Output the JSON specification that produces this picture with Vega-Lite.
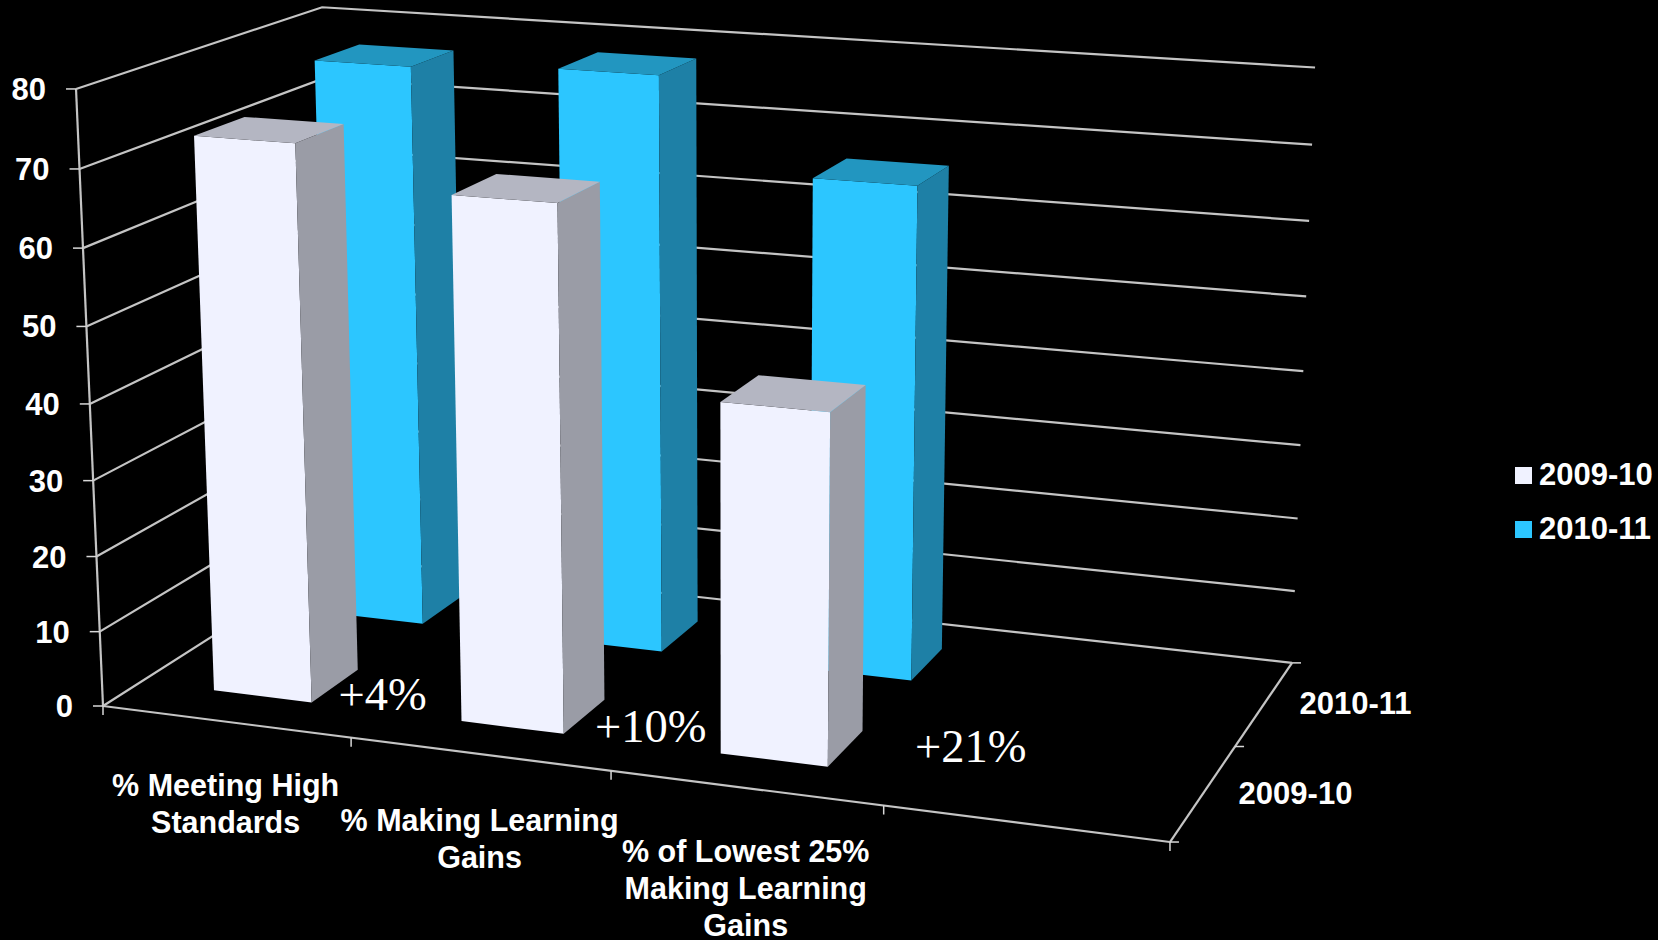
{
"$schema":"https://vega.github.io/schema/vega-lite/v6.json",
"width":1658,"height":940,"padding":0,"autosize":{"type":"none"},"background":"#000000",
"config":{"view":{"stroke":null}},
"datasets":{
"bars":[
{"category":"% Meeting High Standards","year":"2010-11","value":77},
{"category":"% Making Learning Gains","year":"2010-11","value":78},
{"category":"% of Lowest 25% Making Learning Gains","year":"2010-11","value":66},
{"category":"% Meeting High Standards","year":"2009-10","value":73},
{"category":"% Making Learning Gains","year":"2009-10","value":68},
{"category":"% of Lowest 25% Making Learning Gains","year":"2009-10","value":45}],
"levels":[{"level":0},{"level":10},{"level":20},{"level":30},{"level":40},{"level":50},{"level":60},{"level":70},{"level":80}],
"categories":[
{"i":0,"label":"% Meeting High\nStandards","change":"+4%"},
{"i":1,"label":"% Making Learning\nGains","change":"+10%"},
{"i":2,"label":"% of Lowest 25%\nMaking Learning\nGains","change":"+21%"}],
"categoryTicks":[{"k":0},{"k":1},{"k":2},{"k":3},{"k":4}],
"depthTicks":[{"k":0},{"k":1},{"k":2}],
"years":[{"year":"2009-10","j":0},{"year":"2010-11","j":1}],
"axisLines":[{"name":"value"},{"name":"category"},{"name":"depth"}]
},
"encoding":{
"x":{"field":"sx","type":"quantitative","scale":{"domain":[0,1658],"nice":false,"zero":false},"axis":null},
"y":{"field":"sy","type":"quantitative","scale":{"domain":[940,0],"nice":false,"zero":false},"axis":null}
},
"layer":[
{"data":{"name":"levels"},
"transform":[
{"calculate":"[{n:0,X:0,Y:0},{n:1,X:0,Y:1},{n:2,X:1,Y:1}]","as":"v"},
{"flatten":["v"]},
{"calculate":"datum.v.X","as":"X"},{"calculate":"datum.v.Y","as":"Y"},{"calculate":"datum.level/80","as":"Z"},{"calculate":"datum.v.n","as":"n"},
{"calculate":"1-0.091*datum.X+0.1289*datum.Y-0.04106*datum.Z","as":"w"},
{"calculate":"(103+960.5*datum.X+277.5*datum.Y-30.1*datum.Z)/datum.w","as":"sx"},
{"calculate":"(706+59.4*datum.X-77.4*datum.Y-620.7*datum.Z)/datum.w","as":"sy"}],
"mark":{"type":"line","stroke":"#c4c4c4","strokeWidth":2.2},
"encoding":{"detail":{"field":"level"},"order":{"field":"n"}}},
{"data":{"name":"axisLines"},
"transform":[
{"calculate":"datum.name==='value'?[{n:0,X:0,Y:0,Z:0},{n:1,X:0,Y:0,Z:1}]:datum.name==='category'?[{n:0,X:0,Y:0,Z:0},{n:1,X:1,Y:0,Z:0}]:[{n:0,X:1,Y:0,Z:0},{n:1,X:1,Y:1,Z:0}]","as":"v"},
{"flatten":["v"]},
{"calculate":"datum.v.X","as":"X"},{"calculate":"datum.v.Y","as":"Y"},{"calculate":"datum.v.Z","as":"Z"},{"calculate":"datum.v.n","as":"n"},
{"calculate":"1-0.091*datum.X+0.1289*datum.Y-0.04106*datum.Z","as":"w"},
{"calculate":"(103+960.5*datum.X+277.5*datum.Y-30.1*datum.Z)/datum.w","as":"sx"},
{"calculate":"(706+59.4*datum.X-77.4*datum.Y-620.7*datum.Z)/datum.w","as":"sy"}],
"mark":{"type":"line","stroke":"#c4c4c4","strokeWidth":2.2},
"encoding":{"detail":{"field":"name"},"order":{"field":"n"}}},
{"data":{"name":"levels"},
"transform":[
{"calculate":"datum.level/80","as":"Z"},
{"calculate":"1-0.04106*datum.Z","as":"w"},
{"calculate":"(103-30.1*datum.Z)/datum.w","as":"sx"},
{"calculate":"(706-620.7*datum.Z)/datum.w","as":"sy"},
{"calculate":"datum.sx-10","as":"sx2"}],
"mark":{"type":"rule","stroke":"#d8d8d8","strokeWidth":1.5},
"encoding":{"x2":{"field":"sx2"}}},
{"data":{"name":"categoryTicks"},
"transform":[
{"calculate":"datum.k/4","as":"X"},
{"calculate":"1-0.091*datum.X","as":"w"},
{"calculate":"(103+960.5*datum.X)/datum.w","as":"sx"},
{"calculate":"(706+59.4*datum.X)/datum.w","as":"sy"},
{"calculate":"datum.sy+9","as":"sy2"}],
"mark":{"type":"rule","stroke":"#d8d8d8","strokeWidth":1.5},
"encoding":{"y2":{"field":"sy2"}}},
{"data":{"name":"depthTicks"},
"transform":[
{"calculate":"datum.k/2","as":"Y"},
{"calculate":"1-0.091+0.1289*datum.Y","as":"w"},
{"calculate":"(103+960.5+277.5*datum.Y)/datum.w","as":"sx"},
{"calculate":"(706+59.4-77.4*datum.Y)/datum.w","as":"sy"},
{"calculate":"datum.sx+9","as":"sx2"}],
"mark":{"type":"rule","stroke":"#d8d8d8","strokeWidth":1.5},
"encoding":{"x2":{"field":"sx2"}}},
{"data":{"name":"bars"},
"transform":[
{"calculate":"indexof(['% Meeting High Standards','% Making Learning Gains','% of Lowest 25% Making Learning Gains'],datum.category)","as":"i"},
{"calculate":"datum.year==='2009-10'?0:1","as":"j"},
{"calculate":"(datum.i+0.3)/4","as":"a"},{"calculate":"(datum.i+0.7)/4","as":"b"},
{"calculate":"(datum.j+0.3)/2","as":"c"},{"calculate":"(datum.j+0.7)/2","as":"d"},
{"calculate":"datum.value/80","as":"h"},
{"calculate":"[{f:'front',n:0,X:datum.a,Y:datum.c,Z:0},{f:'front',n:1,X:datum.b,Y:datum.c,Z:0},{f:'front',n:2,X:datum.b,Y:datum.c,Z:datum.h},{f:'front',n:3,X:datum.a,Y:datum.c,Z:datum.h},{f:'side',n:4,X:datum.b,Y:datum.c,Z:0},{f:'side',n:5,X:datum.b,Y:datum.d,Z:0},{f:'side',n:6,X:datum.b,Y:datum.d,Z:datum.h},{f:'side',n:7,X:datum.b,Y:datum.c,Z:datum.h},{f:'top',n:8,X:datum.a,Y:datum.c,Z:datum.h},{f:'top',n:9,X:datum.b,Y:datum.c,Z:datum.h},{f:'top',n:10,X:datum.b,Y:datum.d,Z:datum.h},{f:'top',n:11,X:datum.a,Y:datum.d,Z:datum.h}]","as":"v"},
{"flatten":["v"]},
{"calculate":"datum.v.X","as":"X"},{"calculate":"datum.v.Y","as":"Y"},{"calculate":"datum.v.Z","as":"Z"},
{"calculate":"(1-datum.j)*100+datum.i*20+datum.v.n","as":"ord"},
{"calculate":"datum.category+datum.year+datum.v.f","as":"face"},
{"calculate":"datum.v.f==='front'?datum.year:datum.year+' '+datum.v.f","as":"shade"},
{"calculate":"1-0.091*datum.X+0.1289*datum.Y-0.04106*datum.Z","as":"w"},
{"calculate":"(103+960.5*datum.X+277.5*datum.Y-30.1*datum.Z)/datum.w","as":"sx"},
{"calculate":"(706+59.4*datum.X-77.4*datum.Y-620.7*datum.Z)/datum.w","as":"sy"}],
"mark":{"type":"line","strokeWidth":0},
"encoding":{
"detail":{"field":"face"},
"order":{"field":"ord"},
"fill":{"field":"shade","type":"nominal",
"scale":{"domain":["2009-10","2010-11","2009-10 side","2010-11 side","2009-10 top","2010-11 top"],"range":["#F0F2FF","#2CC6FF","#9A9CA6","#1E80A6","#B4B6C2","#2296C0"]},
"legend":{"title":null,"values":["2009-10","2010-11"],"orient":"none","legendX":1508,"legendY":460,"symbolType":"square","symbolSize":289,"symbolStrokeWidth":0,"symbolOpacity":1,"labelFont":"Liberation Sans","labelFontWeight":"bold","labelFontSize":31,"labelColor":"#ffffff","rowPadding":22,"labelOffset":0,"labelLimit":200}}}},
{"data":{"name":"levels"},
"transform":[
{"calculate":"datum.level/80","as":"Z"},
{"calculate":"1-0.04106*datum.Z","as":"w"},
{"calculate":"(103-30.1*datum.Z)/datum.w","as":"sx"},
{"calculate":"(706-620.7*datum.Z)/datum.w","as":"sy"}],
"mark":{"type":"text","align":"right","baseline":"middle","dx":-30,"dy":2,"font":"Liberation Sans","fontWeight":"bold","fontSize":31,"fill":"#ffffff"},
"encoding":{"text":{"field":"level","type":"quantitative"}}},
{"data":{"name":"categories"},
"transform":[
{"calculate":"(datum.i+0.5)/4","as":"X"},
{"calculate":"1-0.091*datum.X","as":"w"},
{"calculate":"(103+960.5*datum.X)/datum.w","as":"sx"},
{"calculate":"(706+59.4*datum.X)/datum.w+[0,3,0][datum.i]","as":"sy"}],
"mark":{"type":"text","align":"center","baseline":"top","dy":50,"lineBreak":"\n","lineHeight":37,"font":"Liberation Sans","fontWeight":"bold","fontSize":30.5,"fill":"#ffffff"},
"encoding":{"text":{"field":"label","type":"nominal"}}},
{"data":{"name":"years"},
"transform":[
{"calculate":"(datum.j+0.5)/2","as":"Y"},
{"calculate":"1-0.091+0.1289*datum.Y","as":"w"},
{"calculate":"(103+960.5+277.5*datum.Y)/datum.w","as":"sx"},
{"calculate":"(706+59.4-77.4*datum.Y)/datum.w","as":"sy"}],
"mark":{"type":"text","align":"left","baseline":"middle","dx":35,"dy":2,"font":"Liberation Sans","fontWeight":"bold","fontSize":31,"fill":"#ffffff"},
"encoding":{"text":{"field":"year","type":"nominal"}}},
{"data":{"name":"categories"},
"transform":[
{"calculate":"(datum.i+0.7)/4","as":"X"},
{"calculate":"1-0.091*datum.X+0.1289*0.15","as":"w"},
{"calculate":"(103+960.5*datum.X+277.5*0.15)/datum.w+[71,87,143][datum.i]","as":"sx"},
{"calculate":"(706+59.4*datum.X-77.4*0.15)/datum.w+[-6,-6,-19][datum.i]","as":"sy"}],
"mark":{"type":"text","align":"center","baseline":"middle","font":"Liberation Serif","fontSize":46.5,"fill":"#ffffff"},
"encoding":{"text":{"field":"change","type":"nominal"}}}
]
}
